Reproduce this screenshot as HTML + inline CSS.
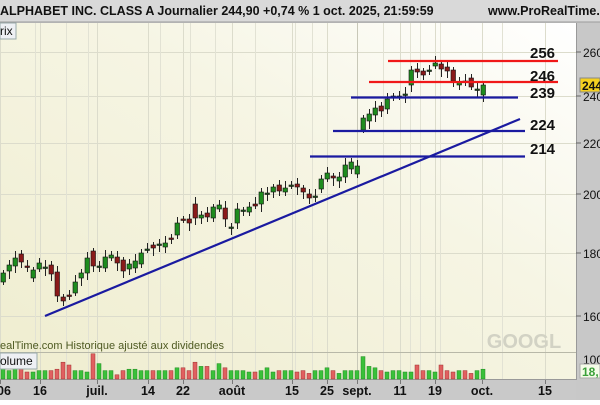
<!DOCTYPE html>
<html><head><meta charset="utf-8"><style>
body{margin:0;width:600px;height:400px;overflow:hidden;font-family:"Liberation Sans",sans-serif}
</style></head><body>
<svg id="s" width="600" height="400" xmlns="http://www.w3.org/2000/svg" font-family="Liberation Sans, sans-serif">
<defs>
<linearGradient id="bg" x1="0" y1="1" x2="1" y2="0">
<stop offset="0" stop-color="#efedcf"/><stop offset="0.6" stop-color="#f6f5e4"/><stop offset="1" stop-color="#ffffff"/>
</linearGradient>
</defs>
<rect x="0" y="0" width="600" height="400" fill="#c9c9c9"/>
<rect x="0" y="0" width="600" height="22" fill="#d9d9d9"/>
<line x1="0" y1="22" x2="600" y2="22" stroke="#9a9a9a"/>
<text x="0" y="15" font-size="12.5" font-weight="bold" fill="#111">ALPHABET INC. CLASS A Journalier 244,90 +0,74 % 1 oct. 2025, 21:59:59</text>
<text x="488" y="15" font-size="12.5" font-weight="bold" fill="#111">www.ProRealTime.com</text>
<rect x="0" y="23" width="576" height="357" fill="url(#bg)"/>
<g id="grid"></g>
<line x1="0" y1="352.5" x2="576" y2="352.5" stroke="#b8b8a8"/>
<line x1="0" y1="379.5" x2="576" y2="379.5" stroke="#999"/>
<rect x="576" y="23" width="24" height="377" fill="#c8c8c8"/>
<line x1="576.5" y1="23" x2="576.5" y2="380" stroke="#999"/>
<text x="524" y="348" font-size="20" font-weight="bold" fill="#d2d2c4" text-anchor="middle">GOOGL</text>
<text x="0" y="349" font-size="11" fill="#4e5a22">ealTime.com  Historique ajusté aux dividendes</text>
<g id="cand"></g>
<g id="lines">
<line x1="45" y1="316" x2="520" y2="119" stroke="#1a1aa0" stroke-width="2.2"/>
<line x1="388" y1="61" x2="558" y2="61" stroke="#f01818" stroke-width="2.2"/>
<line x1="369" y1="82" x2="558" y2="82" stroke="#f01818" stroke-width="2.2"/>
<line x1="351" y1="97.5" x2="518" y2="97.5" stroke="#1a1aa0" stroke-width="2.2"/>
<line x1="333" y1="131" x2="525" y2="131" stroke="#1a1aa0" stroke-width="2.2"/>
<line x1="310" y1="156.5" x2="525" y2="156.5" stroke="#1a1aa0" stroke-width="2.2"/>
</g>
<g font-size="15" font-weight="bold" fill="#111">
<text x="530" y="58">256</text><text x="530" y="81">246</text><text x="530" y="98">239</text>
<text x="530" y="130">224</text><text x="530" y="154">214</text>
</g>
<g font-size="12" fill="#111">
<text x="583" y="57">260</text><text x="583" y="101">240</text><text x="583" y="148">220</text>
<text x="583" y="199">200</text><text x="583" y="258">180</text><text x="583" y="321">160</text>
<text x="583" y="364">100</text>
</g>
<g stroke="#666"><line x1="576" y1="52" x2="581" y2="52"/><line x1="576" y1="96" x2="581" y2="96"/><line x1="576" y1="143" x2="581" y2="143"/><line x1="576" y1="194" x2="581" y2="194"/><line x1="576" y1="253" x2="581" y2="253"/><line x1="576" y1="316" x2="581" y2="316"/></g>
<rect x="580" y="78" width="20" height="14" fill="#f5d020" stroke="#888"/>
<text x="582" y="90" font-size="12" font-weight="bold" fill="#111">244</text>
<rect x="580" y="364" width="20" height="14" fill="#f4fbe8" stroke="#aaa"/>
<text x="582" y="376" font-size="12" font-weight="bold" fill="#3aa03a">18,</text>
<rect x="0" y="23" width="16" height="16" fill="#eef0f4" stroke="#9aa"/>
<text x="0" y="35" font-size="12" fill="#111">rix</text>
<rect x="0" y="353" width="37" height="16" fill="#eef0f4" stroke="#9aa"/>
<text x="0" y="365" font-size="12" fill="#111">olume</text>
<g id="xl" font-size="12.5" font-weight="bold" fill="#111" text-anchor="middle"></g>
</svg>
<script>
var NS="http://www.w3.org/2000/svg";
function el(p,t,a){var e=document.createElementNS(NS,t);for(var k in a)e.setAttribute(k,a[k]);document.getElementById(p).appendChild(e);return e;}
[52,96,143,194,253,316].forEach(function(y){el("grid","line",{x1:0,y1:y+.5,x2:576,y2:y+.5,stroke:"#dcdccc"});});
var dates=[[0,"06"],[40,"16"],[97,"juil."],[148,"14"],[183,"22"],[232,"août"],[292,"15"],[327,"25"],[357,"sept."],[400,"11"],[435,"19"],[482,"oct."],[545,"15"]];
[35,66,88,160,190,215,255,295,312,383,410,420,440,502].forEach(function(x){el("grid","line",{x1:x+.5,y1:23,x2:x+.5,y2:380,stroke:"#e2e2d4"});});
dates.forEach(function(d){el("grid","line",{x1:d[0]+.5,y1:23,x2:d[0]+.5,y2:380,stroke:d[1]=="sept."?"#c8c8b8":"#dcdccc"});
 el("grid","line",{x1:d[0]+.5,y1:380,x2:d[0]+.5,y2:384,stroke:"#777"});
 var t=el("xl","text",{x:d[0]+(d[0]==0?4:0),y:395});t.textContent=d[1];});
var C=[[3,273,282,1],[9,265,271,1],[15,258,266,1],[21,254,262,0],[27,266,267,0],[33,270,278,1],[39,263,269,1],[45,267,268,2],[51,265,274,0],[57,272,296,0],[63,297,301,0],[69,295,296,0],[75,282,293,1],[81,273,278,1],[87,258,273,1],[93,251,266,0],[99,266,267,2],[105,257,268,1],[111,255,258,1],[117,257,263,0],[123,260,271,0],[129,264,269,1],[135,261,268,1],[141,253,264,1],[147,249,250,2],[153,245,248,0],[159,244,245,2],[165,243,247,1],[171,238,239,0],[177,223,235,1],[183,219,220,0],[189,219,223,0],[195,204,218,0],[201,215,218,1],[207,213,217,0],[213,207,218,1],[219,205,209,1],[225,208,219,0],[231,227,228,2],[237,209,223,1],[243,210,211,2],[249,207,212,1],[255,204,206,0],[261,192,204,1],[267,193,194,2],[273,187,192,1],[279,185,191,0],[285,188,192,1],[291,185,186,2],[297,184,187,0],[303,188,192,0],[309,194,198,0],[315,196,197,2],[321,179,189,1],[327,173,179,1],[333,176,178,0],[339,177,181,1],[345,165,177,1],[351,162,169,1],[357,166,174,1],[363,118,130,1],[369,114,121,1],[375,108,115,1],[381,106,111,0],[387,99,109,1],[393,96,97,2],[399,96,97,2],[405,94,95,2],[411,70,85,1],[417,69,72,0],[423,71,75,0],[429,70,71,2],[435,63,66,1],[441,64,69,0],[447,67,71,0],[453,70,81,0],[459,82,85,1],[465,81,82,0],[471,78,87,0],[477,89,90,2],[483,85,95,1]];
var vol=[8,6,7,9,5,5,6,6,6,7,12,10,6,6,5,18,11,6,6,3,6,7,7,6,6,6,6,6,6,8,8,6,12,9,9,6,11,8,6,6,6,5,5,6,8,5,6,6,6,5,6,4,6,6,8,6,4,6,6,6,16,9,8,6,5,6,6,5,5,10,6,6,5,10,6,5,6,6,4,6,7,4];
C.forEach(function(c,i){
 var x=c[0]-2,col=c[3]==1?"#1e8c1e":(c[3]==0?"#8a1a1a":"#1e5a1e");
 var hi=c[1]-3-(i*7%5),lo=c[2]+3+(i*5%6);
 el("cand","line",{x1:c[0]+.5,y1:hi,x2:c[0]+.5,y2:lo,stroke:"#222",'stroke-width':1});
 el("cand","rect",{x:x,y:c[1],width:4.5,height:Math.max(1.5,c[2]-c[1]),fill:col,stroke:"#111",'stroke-width':0.6});
 var v=vol[i]||6,vc=c[3]==0?"#e06060":"#3ac03a";
 el("cand","rect",{x:c[0]-2,y:379-v*1.4,width:4,height:v*1.4,fill:vc,stroke:c[3]==0?"#a03030":"#208a20",'stroke-width':0.5});
});
</script>
</body></html>
